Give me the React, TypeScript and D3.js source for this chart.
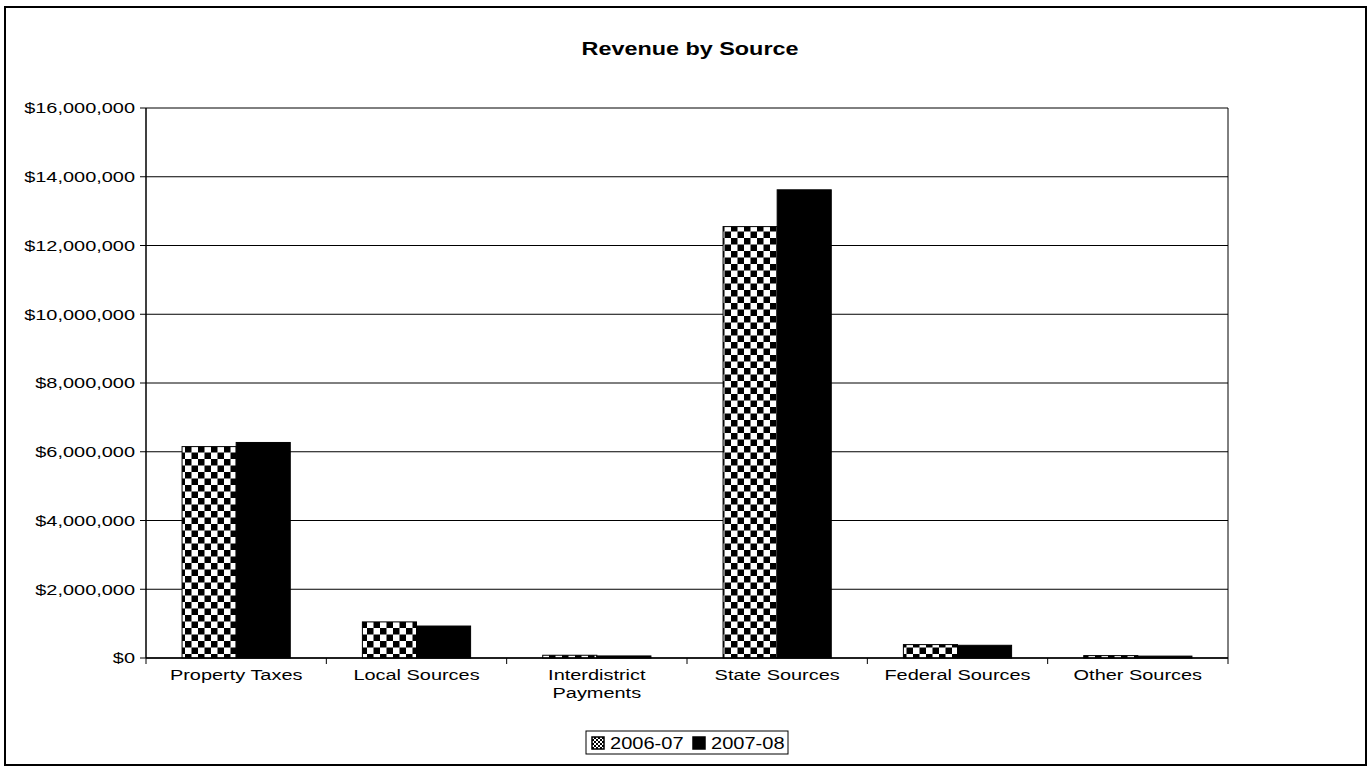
import React from 'react'
import * as d3 from 'd3'

const categories = ['Property Taxes', 'Local Sources', 'Interdistrict Payments', 'State Sources', 'Federal Sources', 'Other Sources']
const series = ['2006-07', '2007-08']
const values0607 = [6150000, 1050000, 80000, 12550000, 390000, 70000]
const values0708 = [6270000, 930000, 60000, 13620000, 370000, 55000]
const yTicks = [0, 2000000, 4000000, 6000000, 8000000, 10000000, 12000000, 14000000, 16000000]

const W = 1370
const H = 769
const margin = { left: 146, right: 142, top: 108, bottom: 111 }
const font = '"Liberation Sans", Arial, sans-serif'
// the scanned original is stretched sideways, so text is widened to match
const stretch = 1.33

export default function App() {
  const iw = W - margin.left - margin.right
  const ih = H - margin.top - margin.bottom

  const x = d3.scaleBand().domain(categories).range([0, iw]).paddingInner(0.4).paddingOuter(0.2)
  const xs = d3.scaleBand().domain(series).range([0, x.bandwidth()])
  const y = d3.scaleLinear().domain([0, 16000000]).range([ih, 0])
  const fmt = (v: number) => '$' + d3.format(',')(v)

  const data = [values0607, values0708]
  const step = iw / categories.length

  return (
    <svg width={W} height={H} style={{ position: 'absolute', left: 0, top: 0, background: '#fff' }}>
      <defs>
        <pattern id="checker" width="13" height="13" patternUnits="userSpaceOnUse">
          <rect width="13" height="13" fill="#fff" />
          <rect width="6.5" height="6.5" fill="#000" />
          <rect x="6.5" y="6.5" width="6.5" height="6.5" fill="#000" />
        </pattern>
        <pattern id="checkerSmall" width="4" height="4" patternUnits="userSpaceOnUse">
          <rect width="4" height="4" fill="#fff" />
          <rect width="2" height="2" fill="#000" />
          <rect x="2" y="2" width="2" height="2" fill="#000" />
        </pattern>
      </defs>
      <rect x={5} y={7} width={1361} height={758} fill="none" stroke="#000" strokeWidth={2} />
      <text
        transform={`translate(690,55) scale(1.3,1)`}
        textAnchor="middle"
        fontFamily={font}
        fontWeight="bold"
        fontSize={18}
      >
        Revenue by Source
      </text>
      <g transform={`translate(${margin.left},${margin.top})`}>
        {yTicks.map(t => (
          <g key={t}>
            <line x1={0} x2={iw} y1={y(t)} y2={y(t)} stroke="#000" strokeWidth={1} />
            <line x1={-6} x2={0} y1={y(t)} y2={y(t)} stroke="#000" />
            <text
              transform={`translate(-11,${y(t)}) scale(${stretch},1)`}
              dy="0.35em"
              textAnchor="end"
              fontFamily={font}
              fontSize={15}
            >
              {fmt(t)}
            </text>
          </g>
        ))}
        <line x1={iw} x2={iw} y1={0} y2={ih} stroke="#000" />
        {categories.map((c, i) =>
          series.map((s, j) => {
            const v = data[j][i]
            return (
              <rect
                key={c + s}
                x={(x(c) ?? 0) + (xs(s) ?? 0)}
                y={y(v)}
                width={xs.bandwidth()}
                height={ih - y(v)}
                fill={j === 0 ? 'url(#checker)' : '#000'}
                stroke="#000"
                strokeWidth={1}
              />
            )
          })
        )}
        <line x1={0} x2={0} y1={0} y2={ih} stroke="#000" strokeWidth={1.5} />
        <line x1={0} x2={iw} y1={ih} y2={ih} stroke="#000" strokeWidth={1.5} />
        {d3.range(categories.length + 1).map(i => (
          <line key={i} x1={i * step} x2={i * step} y1={ih} y2={ih + 6} stroke="#000" />
        ))}
        {categories.map(c => {
          const cx = (x(c) ?? 0) + x.bandwidth() / 2
          const lines = c === 'Interdistrict Payments' ? ['Interdistrict', 'Payments'] : [c]
          return (
            <text
              key={c}
              transform={`translate(${cx},${ih + 22}) scale(${stretch},1)`}
              textAnchor="middle"
              fontFamily={font}
              fontSize={15}
            >
              {lines.map((l, k) => (
                <tspan key={l} x={0} dy={k === 0 ? 0 : 18}>
                  {l}
                </tspan>
              ))}
            </text>
          )
        })}
      </g>
      <g transform="translate(586,731)">
        <rect width={202} height={23} fill="#fff" stroke="#000" strokeWidth={1} />
        {series.map((s, j) => (
          <g key={s} transform={`translate(${6 + j * 101},0)`}>
            <rect x={0} y={6} width={12} height={12} fill={j === 0 ? 'url(#checkerSmall)' : '#000'} stroke="#000" strokeWidth={1.5} />
            <text transform="translate(18,18) scale(1.18,1)" fontFamily={font} fontSize={17}>
              {s}
            </text>
          </g>
        ))}
      </g>
    </svg>
  )
}
